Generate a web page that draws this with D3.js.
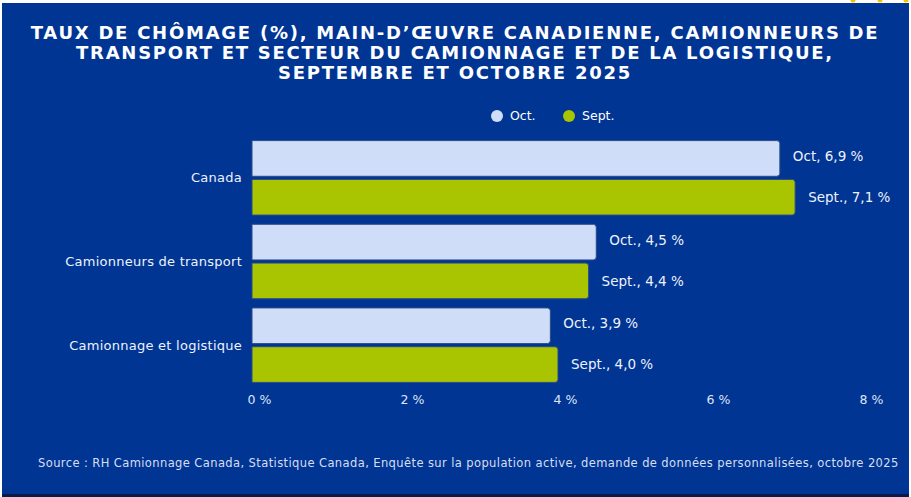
<!DOCTYPE html>
<html>
  <head>
    <meta charset="utf-8">
    <title>Taux de chômage</title>
    <script src="https://cdnjs.cloudflare.com/ajax/libs/d3/7.8.5/d3.min.js"></script>
    <style>
      body { margin: 0; background: #ffffff; }
      svg { display: block; }
    </style>
  </head>
  <body>

    <script>
      // data
      var categories = ["Canada", "Camionneurs de transport", "Camionnage et logistique"];
      var series = ["Oct.", "Sept."];
      var octValues = [6.9, 4.5, 3.9];
      var septValues = [7.1, 4.4, 4.0];
      var octPrefix = ["Oct", "Oct.", "Oct."];
      var septPrefix = ["Sept.", "Sept.", "Sept."];
      var xTicks = [0, 2, 4, 6, 8];

      var titleLines = [
        "TAUX DE CHÔMAGE (%), MAIN-D’ŒUVRE CANADIENNE, CAMIONNEURS DE",
        "TRANSPORT ET SECTEUR DU CAMIONNAGE ET DE LA LOGISTIQUE,",
        "SEPTEMBRE ET OCTOBRE 2025"
      ];
      var source = "Source : RH Camionnage Canada, Statistique Canada, Enquête sur la population active, demande de données personnalisées, octobre 2025";

      var colors = { "Oct.": "#d0ddf8", "Sept.": "#a9c400" };
      var W = 911, H = 497;
      var font = "'DejaVu Sans', sans-serif";

      var svg = d3.select("body").append("svg")
        .attr("width", W)
        .attr("height", H);

      // panel background
      svg.append("rect").attr("x", 2).attr("y", 3).attr("width", 907).attr("height", 491)
        .attr("fill", "#003594");
      svg.append("rect").attr("x", 2).attr("y", 494).attr("width", 907).attr("height", 3)
        .attr("fill", "#0a1a4c");
      svg.selectAll("circle.deco").data([853, 880, 906]).enter().append("circle")
        .attr("class", "deco")
        .attr("cx", function (d) { return d; })
        .attr("cy", 0)
        .attr("r", 2.5)
        .attr("fill", "#f3c300");

      // title
      svg.selectAll("text.title").data(titleLines).enter().append("text")
        .attr("class", "title")
        .attr("x", 455)
        .attr("y", function (d, i) { return 39 + i * 20; })
        .attr("text-anchor", "middle")
        .attr("fill", "#ffffff")
        .style("font-family", font)
        .style("font-weight", "bold")
        .style("font-size", "18px")
        .style("letter-spacing", "1.75px")
        .text(function (d) { return d; });

      // legend
      var legend = svg.selectAll("g.legend").data(series).enter().append("g")
        .attr("class", "legend")
        .attr("transform", function (d, i) { return "translate(" + (497 + i * 72) + ",116)"; });
      legend.append("circle").attr("r", 6).attr("fill", function (d) { return colors[d]; });
      legend.append("text")
        .attr("x", 13).attr("dy", "0.35em")
        .attr("fill", "#ffffff")
        .style("font-family", font)
        .style("font-size", "12.5px")
        .text(function (d) { return d; });

      // scales
      var x = d3.scaleLinear().domain([0, 8]).range([252, 864]);
      var y0 = d3.scaleBand().domain(categories).range([136, 387])
        .paddingInner(0.11).paddingOuter(0.055);
      var y1 = d3.scaleBand().domain(series).range([0, y0.bandwidth()]).paddingInner(0.08);

      var rows = categories.map(function (c, i) {
        return {
          cat: c,
          bars: [
            { s: "Oct.", v: octValues[i], label: octPrefix[i] },
            { s: "Sept.", v: septValues[i], label: septPrefix[i] }
          ]
        };
      });

      var fmt = function (v) { return d3.format(".1f")(v).replace(".", ",") + " %"; };

      function barPath(x0, x1, yy, h, r) {
        return "M" + x0 + "," + yy +
          "H" + (x1 - r) + "Q" + x1 + "," + yy + " " + x1 + "," + (yy + r) +
          "V" + (yy + h - r) + "Q" + x1 + "," + (yy + h) + " " + (x1 - r) + "," + (yy + h) +
          "H" + x0 + "Z";
      }

      var groups = svg.selectAll("g.row").data(rows).enter().append("g")
        .attr("class", "row")
        .attr("transform", function (d) { return "translate(0," + y0(d.cat) + ")"; });

      groups.append("text")
        .attr("x", 242)
        .attr("y", y0.bandwidth() / 2)
        .attr("dy", "0.35em")
        .attr("text-anchor", "end")
        .attr("fill", "#eef2fb")
        .style("font-family", font)
        .style("font-size", "13px")
        .style("letter-spacing", "0.25px")
        .text(function (d) { return d.cat; });

      var bars = groups.selectAll("g.bar").data(function (d) { return d.bars; }).enter().append("g")
        .attr("class", "bar");

      bars.append("path")
        .attr("d", function (d) { return barPath(x(0), x(d.v), y1(d.s), y1.bandwidth(), 3); })
        .attr("fill", function (d) { return colors[d.s]; })
        .attr("stroke", "#2a4b86")
        .attr("stroke-width", 1);

      // Oct labels sit a little above the bar middle in the original
      bars.append("text")
        .attr("x", function (d) { return x(d.v) + 13; })
        .attr("y", function (d) { return y1(d.s) + y1.bandwidth() / 2 - (d.s === "Oct." ? 2 : 0); })
        .attr("dy", "0.35em")
        .attr("fill", "#eef2fb")
        .style("font-family", font)
        .style("font-size", "13.5px")
        .text(function (d) { return d.label + ", " + fmt(d.v); });

      // x axis
      var axis = svg.append("g")
        .attr("transform", "translate(0,395)")
        .call(d3.axisBottom(x).tickValues(xTicks).tickSize(0).tickPadding(0)
          .tickFormat(function (d) { return d + " %"; }));
      axis.select(".domain").remove();
      axis.selectAll("text")
        .attr("dx", 7)
        .attr("fill", "#dfe6f7")
        .style("font-family", font)
        .style("font-size", "12.5px");

      // source
      svg.append("text")
        .attr("x", 38)
        .attr("y", 467)
        .attr("fill", "#d7def2")
        .style("font-family", font)
        .style("font-size", "11.5px")
        .style("letter-spacing", "0.4px")
        .text(source);
    </script>

  </body>
</html>
